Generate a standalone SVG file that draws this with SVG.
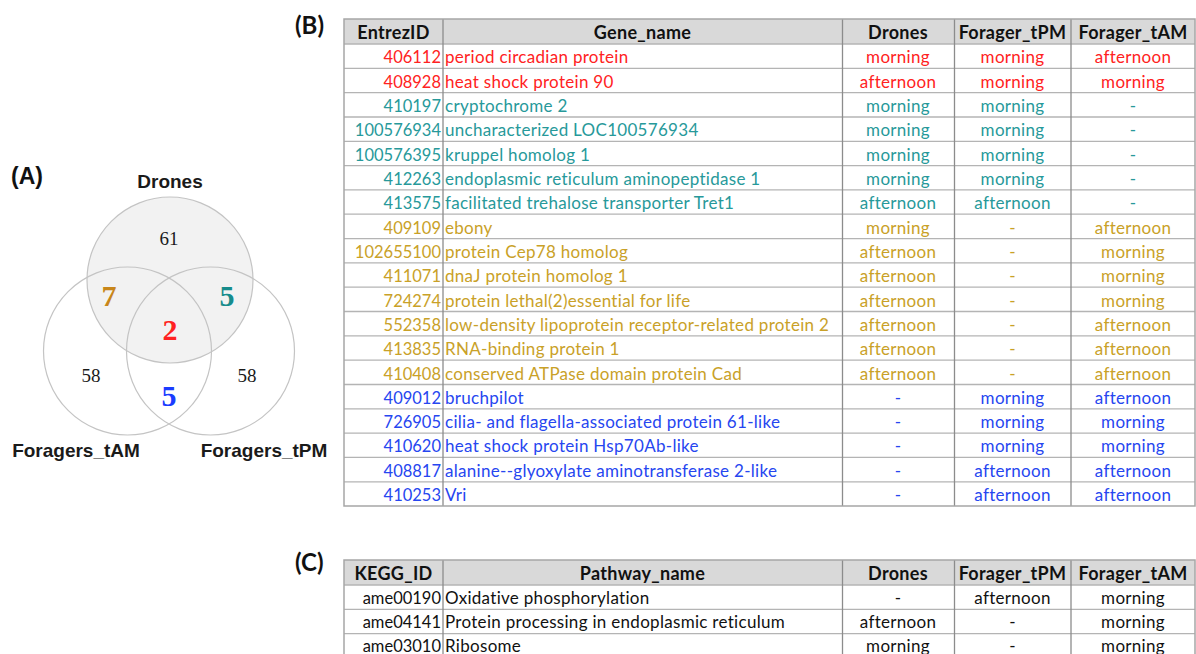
<svg xmlns="http://www.w3.org/2000/svg" width="1196" height="654" viewBox="0 0 1196 654">
  <style>
    .panel { font-family: "Lato", "Open Sans", sans-serif; font-weight: bold; font-size: 24px; fill: #111; }
    .panelA { font-family: "Liberation Sans", Arial, sans-serif; font-weight: bold; font-size: 23px; fill: #111; }
    .setlab { font-family: "Liberation Sans", Arial, sans-serif; font-weight: bold; font-size: 19px; fill: #1a1a1a; text-anchor: middle; }
    .cnt { font-family: "Liberation Serif", "Times New Roman", serif; font-size: 19px; fill: #1a1a1a; text-anchor: middle; }
    .big { font-family: "Liberation Serif", "Times New Roman", serif; font-weight: bold; font-size: 30px; text-anchor: middle; }
    .ring { fill: none; stroke: #c4c4c4; stroke-width: 1.2; }
    .cell { font-family: "Lato", "Open Sans", sans-serif; font-size: 17px; letter-spacing: 0.3px; }
    .hd { font-family: "Lato", "Open Sans", sans-serif; font-size: 18px; letter-spacing: 0.3px; font-weight: bold; fill: #111; text-anchor: middle; }
    .id { text-anchor: end; font-size: 16.5px; letter-spacing: 0; }
    .mid { text-anchor: middle; }
    .hfill { fill: #d9d9d9; }
    .hline { stroke: #b4b4b4; stroke-width: 1.3; }
    .vline { stroke: #8c8c8c; stroke-width: 1.3; }
    .frame { fill: none; stroke: #a6a6a6; stroke-width: 1.5; }
    .red { fill: #ff2222; }
    .teal { fill: #27999a; }
    .gold { fill: #c9a128; }
    .blue { fill: #2646f0; }
    .blk { fill: #111; }
  </style>

  <rect width="1196" height="654" fill="#ffffff"/>

  <!-- Panel A: three-set Venn -->
  <g id="venn">
    <text class="panelA" x="11" y="184">(A)</text>
    <circle cx="170" cy="280" r="83" fill="#f2f2f2" stroke="#c4c4c4" stroke-width="1.2"/>
    <circle class="ring" cx="127.5" cy="351" r="84"/>
    <circle class="ring" cx="210.5" cy="351" r="84"/>
    <text class="setlab" x="170" y="188">Drones</text>
    <text class="setlab" x="76" y="457">Foragers_tAM</text>
    <text class="setlab" x="264" y="457">Foragers_tPM</text>
    <text class="cnt" x="169" y="245">61</text>
    <text class="cnt" x="91" y="382">58</text>
    <text class="cnt" x="247" y="382">58</text>
    <text class="big" x="109" y="306" fill="#c8861a">7</text>
    <text class="big" x="227" y="306" fill="#178c8c">5</text>
    <text class="big" x="170" y="340" fill="#ff2222">2</text>
    <text class="big" x="169" y="406" fill="#1a3cff">5</text>
  </g>

  <!-- Panel B: genes table -->
  <g id="table-genes">
    <text class="panel" x="295" y="34">(B)</text>
    <rect class="hfill" x="344" y="19" width="851" height="25"/>
    <g id="genes-grid">
      <line class="hline" x1="344" y1="44" x2="1195" y2="44"/>
      <line class="hline" x1="344" y1="68.3" x2="1195" y2="68.3"/>
      <line class="hline" x1="344" y1="92.6" x2="1195" y2="92.6"/>
      <line class="hline" x1="344" y1="117" x2="1195" y2="117"/>
      <line class="hline" x1="344" y1="141.3" x2="1195" y2="141.3"/>
      <line class="hline" x1="344" y1="165.6" x2="1195" y2="165.6"/>
      <line class="hline" x1="344" y1="189.9" x2="1195" y2="189.9"/>
      <line class="hline" x1="344" y1="214.2" x2="1195" y2="214.2"/>
      <line class="hline" x1="344" y1="238.6" x2="1195" y2="238.6"/>
      <line class="hline" x1="344" y1="262.9" x2="1195" y2="262.9"/>
      <line class="hline" x1="344" y1="287.2" x2="1195" y2="287.2"/>
      <line class="hline" x1="344" y1="311.5" x2="1195" y2="311.5"/>
      <line class="hline" x1="344" y1="335.8" x2="1195" y2="335.8"/>
      <line class="hline" x1="344" y1="360.2" x2="1195" y2="360.2"/>
      <line class="hline" x1="344" y1="384.5" x2="1195" y2="384.5"/>
      <line class="hline" x1="344" y1="408.8" x2="1195" y2="408.8"/>
      <line class="hline" x1="344" y1="433.1" x2="1195" y2="433.1"/>
      <line class="hline" x1="344" y1="457.4" x2="1195" y2="457.4"/>
      <line class="hline" x1="344" y1="481.8" x2="1195" y2="481.8"/>
      <line class="vline" x1="443" y1="19" x2="443" y2="506"/>
      <line class="vline" x1="842.5" y1="19" x2="842.5" y2="506"/>
      <line class="vline" x1="954.5" y1="19" x2="954.5" y2="506"/>
      <line class="vline" x1="1071" y1="19" x2="1071" y2="506"/>
      <rect class="frame" x="344" y="19" width="851" height="487"/>
    </g>
    <g id="genes-header">
      <text class="hd" x="393.5" y="39">EntrezID</text>
      <text class="hd" x="642.5" y="39">Gene_name</text>
      <text class="hd" x="898" y="39">Drones</text>
      <text class="hd" x="1012.5" y="39">Forager_tPM</text>
      <text class="hd" x="1133" y="39">Forager_tAM</text>
    </g>
    <!-- shared by all three groups -->
    <g class="cell red">
      <text class="id" x="441" y="63.3">406112</text><text x="445" y="63.3">period circadian protein</text>
      <text class="mid" x="898" y="63.3">morning</text><text class="mid" x="1012.5" y="63.3">morning</text><text class="mid" x="1133" y="63.3">afternoon</text>
      <text class="id" x="441" y="87.6">408928</text><text x="445" y="87.6">heat shock protein 90</text>
      <text class="mid" x="898" y="87.6">afternoon</text><text class="mid" x="1012.5" y="87.6">morning</text><text class="mid" x="1133" y="87.6">morning</text>
    </g>
    <!-- drones and tPM foragers -->
    <g class="cell teal">
      <text class="id" x="441" y="112">410197</text><text x="445" y="112">cryptochrome 2</text>
      <text class="mid" x="898" y="112">morning</text><text class="mid" x="1012.5" y="112">morning</text><text class="mid" x="1133" y="112">-</text>
      <text class="id" x="441" y="136.3">100576934</text><text x="445" y="136.3">uncharacterized LOC100576934</text>
      <text class="mid" x="898" y="136.3">morning</text><text class="mid" x="1012.5" y="136.3">morning</text><text class="mid" x="1133" y="136.3">-</text>
      <text class="id" x="441" y="160.6">100576395</text><text x="445" y="160.6">kruppel homolog 1</text>
      <text class="mid" x="898" y="160.6">morning</text><text class="mid" x="1012.5" y="160.6">morning</text><text class="mid" x="1133" y="160.6">-</text>
      <text class="id" x="441" y="184.9">412263</text><text x="445" y="184.9">endoplasmic reticulum aminopeptidase 1</text>
      <text class="mid" x="898" y="184.9">morning</text><text class="mid" x="1012.5" y="184.9">morning</text><text class="mid" x="1133" y="184.9">-</text>
      <text class="id" x="441" y="209.2">413575</text><text x="445" y="209.2">facilitated trehalose transporter Tret1</text>
      <text class="mid" x="898" y="209.2">afternoon</text><text class="mid" x="1012.5" y="209.2">afternoon</text><text class="mid" x="1133" y="209.2">-</text>
    </g>
    <!-- drones and tAM foragers -->
    <g class="cell gold">
      <text class="id" x="441" y="233.6">409109</text><text x="445" y="233.6">ebony</text>
      <text class="mid" x="898" y="233.6">morning</text><text class="mid" x="1012.5" y="233.6">-</text><text class="mid" x="1133" y="233.6">afternoon</text>
      <text class="id" x="441" y="257.9">102655100</text><text x="445" y="257.9">protein Cep78 homolog</text>
      <text class="mid" x="898" y="257.9">afternoon</text><text class="mid" x="1012.5" y="257.9">-</text><text class="mid" x="1133" y="257.9">morning</text>
      <text class="id" x="441" y="282.2">411071</text><text x="445" y="282.2">dnaJ protein homolog 1</text>
      <text class="mid" x="898" y="282.2">afternoon</text><text class="mid" x="1012.5" y="282.2">-</text><text class="mid" x="1133" y="282.2">morning</text>
      <text class="id" x="441" y="306.5">724274</text><text x="445" y="306.5">protein lethal(2)essential for life</text>
      <text class="mid" x="898" y="306.5">afternoon</text><text class="mid" x="1012.5" y="306.5">-</text><text class="mid" x="1133" y="306.5">morning</text>
      <text class="id" x="441" y="330.8">552358</text><text x="445" y="330.8">low-density lipoprotein receptor-related protein 2</text>
      <text class="mid" x="898" y="330.8">afternoon</text><text class="mid" x="1012.5" y="330.8">-</text><text class="mid" x="1133" y="330.8">afternoon</text>
      <text class="id" x="441" y="355.2">413835</text><text x="445" y="355.2">RNA-binding protein 1</text>
      <text class="mid" x="898" y="355.2">afternoon</text><text class="mid" x="1012.5" y="355.2">-</text><text class="mid" x="1133" y="355.2">afternoon</text>
      <text class="id" x="441" y="379.5">410408</text><text x="445" y="379.5">conserved ATPase domain protein Cad</text>
      <text class="mid" x="898" y="379.5">afternoon</text><text class="mid" x="1012.5" y="379.5">-</text><text class="mid" x="1133" y="379.5">afternoon</text>
    </g>
    <!-- tPM and tAM foragers -->
    <g class="cell blue">
      <text class="id" x="441" y="403.8">409012</text><text x="445" y="403.8">bruchpilot</text>
      <text class="mid" x="898" y="403.8">-</text><text class="mid" x="1012.5" y="403.8">morning</text><text class="mid" x="1133" y="403.8">afternoon</text>
      <text class="id" x="441" y="428.1">726905</text><text x="445" y="428.1">cilia- and flagella-associated protein 61-like</text>
      <text class="mid" x="898" y="428.1">-</text><text class="mid" x="1012.5" y="428.1">morning</text><text class="mid" x="1133" y="428.1">morning</text>
      <text class="id" x="441" y="452.4">410620</text><text x="445" y="452.4">heat shock protein Hsp70Ab-like</text>
      <text class="mid" x="898" y="452.4">-</text><text class="mid" x="1012.5" y="452.4">morning</text><text class="mid" x="1133" y="452.4">morning</text>
      <text class="id" x="441" y="476.8">408817</text><text x="445" y="476.8">alanine--glyoxylate aminotransferase 2-like</text>
      <text class="mid" x="898" y="476.8">-</text><text class="mid" x="1012.5" y="476.8">afternoon</text><text class="mid" x="1133" y="476.8">afternoon</text>
      <text class="id" x="441" y="501.1">410253</text><text x="445" y="501.1">Vri</text>
      <text class="mid" x="898" y="501.1">-</text><text class="mid" x="1012.5" y="501.1">afternoon</text><text class="mid" x="1133" y="501.1">afternoon</text>
    </g>
  </g>

  <!-- Panel C: pathways table -->
  <g id="table-pathways">
    <text class="panel" x="295" y="571">(C)</text>
    <rect class="hfill" x="344" y="560" width="851" height="25"/>
    <g id="pathways-grid">
      <line class="hline" x1="344" y1="585" x2="1195" y2="585"/>
      <line class="hline" x1="344" y1="609.3" x2="1195" y2="609.3"/>
      <line class="hline" x1="344" y1="633.6" x2="1195" y2="633.6"/>
      <line class="vline" x1="443" y1="560" x2="443" y2="660"/>
      <line class="vline" x1="842.5" y1="560" x2="842.5" y2="660"/>
      <line class="vline" x1="954.5" y1="560" x2="954.5" y2="660"/>
      <line class="vline" x1="1071" y1="560" x2="1071" y2="660"/>
      <path class="frame" d="M344,660 V560 H1195 V660"/>
    </g>
    <g id="pathways-header">
      <text class="hd" x="393.5" y="580">KEGG_ID</text>
      <text class="hd" x="642.5" y="580">Pathway_name</text>
      <text class="hd" x="898" y="580">Drones</text>
      <text class="hd" x="1012.5" y="580">Forager_tPM</text>
      <text class="hd" x="1133" y="580">Forager_tAM</text>
    </g>
    <g class="cell blk">
      <text class="id" x="441" y="604">ame00190</text><text x="445" y="604">Oxidative phosphorylation</text>
      <text class="mid" x="898" y="604">-</text><text class="mid" x="1012.5" y="604">afternoon</text><text class="mid" x="1133" y="604">morning</text>
      <text class="id" x="441" y="628.3">ame04141</text><text x="445" y="628.3">Protein processing in endoplasmic reticulum</text>
      <text class="mid" x="898" y="628.3">afternoon</text><text class="mid" x="1012.5" y="628.3">-</text><text class="mid" x="1133" y="628.3">morning</text>
      <text class="id" x="441" y="651.5">ame03010</text><text x="445" y="651.5">Ribosome</text>
      <text class="mid" x="898" y="651.5">morning</text><text class="mid" x="1012.5" y="651.5">-</text><text class="mid" x="1133" y="651.5">morning</text>
    </g>
  </g>
</svg>
